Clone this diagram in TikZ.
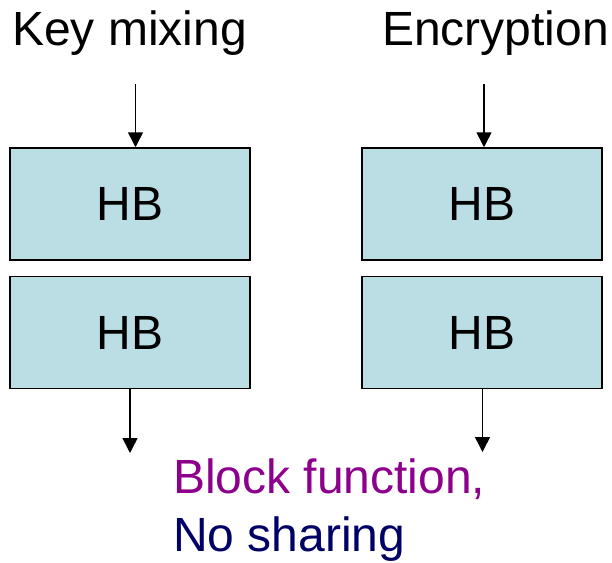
\documentclass[tikz,border=0pt]{standalone}
\usepackage{fontspec}
\setmainfont{Liberation Sans}
\usetikzlibrary{arrows.meta}
\definecolor{hbfill}{RGB}{187,222,228}
\definecolor{notepurple}{RGB}{140,0,140}
\definecolor{notenavy}{RGB}{0,0,102}
\begin{document}
\begin{tikzpicture}[x=1pt,y=-1pt,
  hbbox/.style={draw=black,line width=1.5pt,fill=hbfill,minimum width=240pt,
    minimum height=112pt,inner sep=0pt,font=\fontsize{48}{56}\selectfont},
  title/.style={anchor=base west,inner sep=0pt,font=\fontsize{48}{56}\selectfont},
  flow/.style={line width=1.5pt,-{Triangle[width=15pt,length=15pt]}}]
\useasboundingbox (0,0) rectangle (612,562);
% column titles
\node[title] (kmt) at (12,45) {Key mixing};
\node[title] (enc) at (382,45) {Encryption};
% stacked HB blocks
\node[hbbox] (k1) at (130,204) {HB};
\node[hbbox] (k2) at (130,332.5) {HB};
\node[hbbox] (e1) at (482,204) {HB};
\node[hbbox] (e2) at (482,332.5) {HB};
% inputs and outputs
\coordinate (kin) at (135.5,84);
\coordinate (ein) at (484,84);
\coordinate (kout) at (130,453);
\coordinate (eout) at (482.5,452);
\draw[flow] (kin) -- (kin |- k1.north);
\draw[flow] (ein) -- (ein |- e1.north);
\draw[flow] (kout |- k2.south) -- (kout);
\draw[flow] (eout |- e2.south) -- (eout);
% note
\node[title,text=notepurple] (nb) at (173,493) {Block function,};
\node[title,text=notenavy] (ns) at (173,551) {No sharing};
\end{tikzpicture}
\end{document}
